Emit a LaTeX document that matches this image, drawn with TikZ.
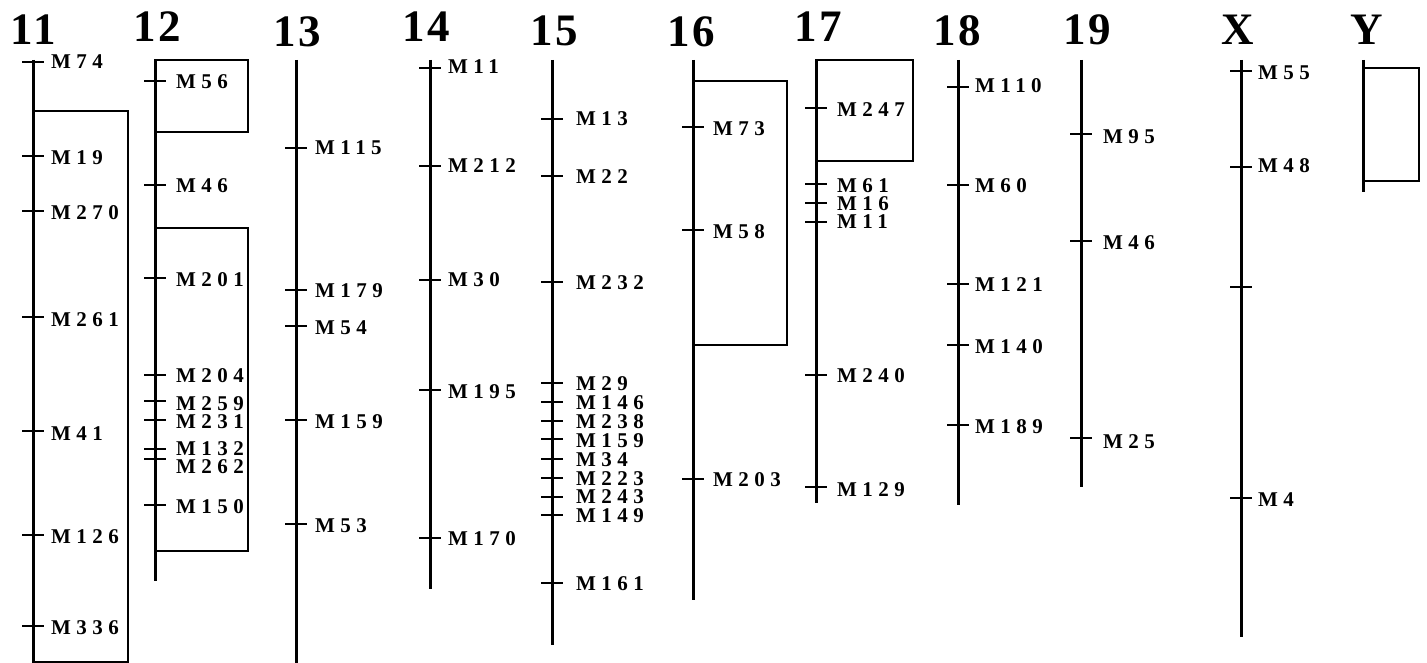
\documentclass[tikz,border=0pt]{standalone}
\usepackage{fontspec}
\newfontfamily\mfontfam{Liberation Serif}[BoldFont={Liberation Serif Bold}, LetterSpace=26]
\newfontfamily\hfontfam{Liberation Serif}[BoldFont={Liberation Serif Bold}, LetterSpace=6]
\newcommand\mfont{\mfontfam\bfseries\fontsize{21}{21}\selectfont}
\newcommand\hfont{\hfontfam\bfseries\fontsize{45}{45}\selectfont}
\tikzset{
  chr/.style={line width=3pt},
  boxline/.style={line width=2.6pt, line join=miter},
  tickline/.style={line width=2.6pt},
  mlab/.style={anchor=west, inner sep=0pt, text height=14pt, text depth=0pt, font=\mfont},
  hdr/.style={anchor=base, inner sep=0pt, font=\hfont}
}
% #1 chromosome id, #2 x of line, #3 label offset, #4 list y/ly/name
\newcommand\markers[4]{%
  \foreach \y/\ly/\m in {#4} {
    \coordinate (k#1-\m) at (#2,\y);
    \draw[tickline] ([xshift=-11pt]k#1-\m) -- ([xshift=11pt]k#1-\m);
    \node[mlab] (n#1-\m) at (#2+#3,\ly) {\m};
  }%
}
\begin{document}
\begin{tikzpicture}[x=1pt,y=-1pt]
\useasboundingbox (0,0) rectangle (1427,663);
% headers
\node[hdr] (h11) at (33,45) {11};
\node[hdr] (h12) at (157,42) {12};
\node[hdr] (h13) at (297,47) {13};
\node[hdr] (h14) at (426,42) {14};
\node[hdr] (h15) at (554,46) {15};
\node[hdr] (h16) at (691,47) {16};
\node[hdr] (h17) at (818,42) {17};
\node[hdr] (h18) at (957,46) {18};
\node[hdr] (h19) at (1087,45) {19};
\node[hdr] (hX) at (1238,45) {X};
\node[hdr] (hY) at (1367,45) {Y};
% 11
\coordinate (t11) at (33,60); \coordinate (b11) at (33,663);
\draw[chr] (t11) -- (b11);
\draw[boxline] (33,111) rectangle (128,662);
\markers{11}{33}{18}{62/62/M74,156/158/M19,211/213/M270,317/319/M261,431/433/M41,535/536/M126,626/627/M336}
% 12
\coordinate (t12) at (155,60); \coordinate (b12) at (155,581);
\draw[chr] (t12) -- (b12);
\draw[boxline] (155,60) rectangle (248,132);
\draw[boxline] (155,228) rectangle (248,551);
\markers{12}{155}{21}{81/82/M56,185/186/M46,278/279/M201,375/375/M204,401/403/M259,420/421/M231,449/448/M132,459/466/M262,505/506/M150}
% 13
\coordinate (t13) at (296,60); \coordinate (b13) at (296,663);
\draw[chr] (t13) -- (b13);
\markers{13}{296}{19}{148/148/M115,290/290/M179,326/327/M54,420/421/M159,524/525/M53}
% 14
\coordinate (t14) at (430,60); \coordinate (b14) at (430,589);
\draw[chr] (t14) -- (b14);
\markers{14}{430}{18}{68/67/M11,166/166/M212,280/280/M30,390/391/M195,538/538/M170}
% 15
\coordinate (t15) at (552,60); \coordinate (b15) at (552,645);
\draw[chr] (t15) -- (b15);
\markers{15}{552}{24}{119/119/M13,176/177/M22,282/282/M232,383/383/M29,402/402/M146,421/421/M238,439/440/M159,459/459/M34,478/478/M223,497/496/M243,515/515/M149,583/583/M161}
% 16
\coordinate (t16) at (693,60); \coordinate (b16) at (693,600);
\draw[chr] (t16) -- (b16);
\draw[boxline] (693,81) rectangle (787,345);
\markers{16}{693}{20}{127/129/M73,230/232/M58,479/479/M203}
% 17
\coordinate (t17) at (816,60); \coordinate (b17) at (816,503);
\draw[chr] (t17) -- (b17);
\draw[boxline] (816,60) rectangle (913,161);
\markers{17}{816}{21}{108/110/M247,184/186/M61,203/204/M16,222/222/M11,375/375/M240,487/489/M129}
% 18
\coordinate (t18) at (958,60); \coordinate (b18) at (958,505);
\draw[chr] (t18) -- (b18);
\markers{18}{958}{17}{87/86/M110,185/186/M60,284/284/M121,345/346/M140,425/426/M189}
% 19
\coordinate (t19) at (1081,60); \coordinate (b19) at (1081,487);
\draw[chr] (t19) -- (b19);
\markers{19}{1081}{22}{134/137/M95,241/243/M46,438/441/M25}
% X
\coordinate (tX) at (1241,60); \coordinate (bX) at (1241,637);
\draw[chr] (tX) -- (bX);
\markers{X}{1241}{17}{71/73/M55,167/166/M48,498/499/M4}
\coordinate (kX-u) at (1241,287);
\draw[tickline] ([xshift=-11pt]kX-u) -- ([xshift=11pt]kX-u);
% Y
\coordinate (tY) at (1363,60); \coordinate (bY) at (1363,192);
\draw[chr] (tY) -- (bY);
\draw[boxline] (1363,68) rectangle (1419,181);
\end{tikzpicture}
\end{document}
